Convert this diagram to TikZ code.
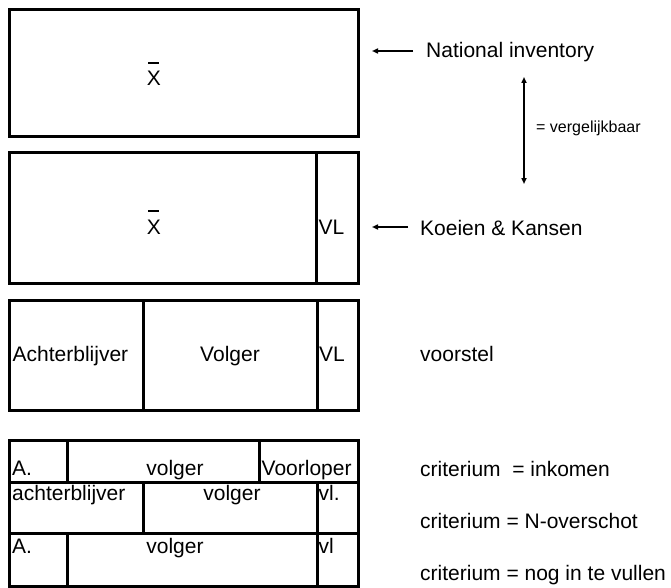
\documentclass[tikz,border=0pt]{standalone}
\usepackage{fontspec}
\setmainfont{Liberation Sans}
\usetikzlibrary{arrows.meta}
\begin{document}
\begin{tikzpicture}[x=1pt,y=-1pt,
  boxline/.style={line width=3pt},
  lbl/.style={inner sep=0pt,font=\fontsize{21}{24}\selectfont,anchor=base west},
  lblc/.style={inner sep=0pt,font=\fontsize{21}{24}\selectfont,anchor=base},
  small/.style={inner sep=0pt,font=\fontsize{16}{19}\selectfont,anchor=base west},
  pointer/.style={line width=1.5pt,-{Triangle[length=6pt,width=5pt]}},
  dpointer/.style={line width=1.5pt,{Triangle[length=6pt,width=5pt]}-{Triangle[length=6pt,width=5pt]}},
  bar/.style={line width=1.5pt}]
\useasboundingbox (0,0) rectangle (671,588);
% box 1
\draw[boxline] (9.5,9.5) rectangle (358,137);
\node[lblc] (x1) at (153.8,86) {X};
\draw[bar] ([xshift=-5.5pt,yshift=8.5pt]x1.north) -- ([xshift=5pt,yshift=8.5pt]x1.north);
% box 2
\draw[boxline] (9.5,153) rectangle (358,283);
\draw[boxline] (316,153) -- (316,283);
\node[lblc] (x2) at (153.8,234) {X};
\draw[bar] ([xshift=-5.5pt,yshift=8.5pt]x2.north) -- ([xshift=5pt,yshift=8.5pt]x2.north);
\node[lbl] (vl2) at (318.5,234) {VL};
% box 3
\draw[boxline] (9.5,300) rectangle (358,410);
\draw[boxline] (143,300) -- (143,410);
\draw[boxline] (317,300) -- (317,410);
\node[lbl] (ach3) at (12.5,361) {Achterblijver};
\node[lblc] (vol3) at (230,361) {Volger};
\node[lbl] (vl3) at (319,361) {VL};
% box 4
\draw[boxline] (9.5,440) rectangle (358,586);
\draw[boxline] (9.5,482) -- (358,482);
\draw[boxline] (9.5,533) -- (358,533);
\draw[boxline] (67,440) -- (67,482);
\draw[boxline] (259,440) -- (259,482);
\draw[boxline] (143,482) -- (143,533);
\draw[boxline] (317,482) -- (317,533);
\draw[boxline] (67,533) -- (67,586);
\draw[boxline] (317,533) -- (317,586);
\node[lbl] (a1) at (12,475) {A.};
\node[lblc] (v1) at (175,475) {volger};
\node[lbl] (vo1) at (261.5,475) {Voorloper};
\node[lbl] (a2) at (12,500.5) {achterblijver};
\node[lblc] (v2) at (232,500.5) {volger};
\node[lbl] (vl42) at (318.5,500.5) {vl.};
\node[lbl] (a3) at (12,553) {A.};
\node[lblc] (v3) at (175,553) {volger};
\node[lbl] (vl43) at (318.5,553) {vl};
% right side labels
\node[lbl] (ni) at (426,58) {National inventory};
\node[lbl] (kk) at (420,235) {Koeien \& Kansen};
\node[small] (verg) at (536,133) {= vergelijkbaar};
\node[lbl] (voor) at (420,361.5) {voorstel};
\node[lbl] (c1) at (420,476.5) {criterium\ \ = inkomen};
\node[lbl] (c2) at (420,528) {criterium = N-overschot};
\node[lbl] (c3) at (420,580) {criterium = nog in te vullen};
% arrows
\coordinate (niS) at (413,51);
\coordinate (niE) at (372,51);
\coordinate (kkS) at (408,227);
\coordinate (kkE) at (372,227);
\coordinate (dTop) at (524,77);
\coordinate (dBot) at (524,184);
\draw[pointer] (niS) -- (niE);
\draw[pointer] (kkS) -- (kkE);
\draw[dpointer] (dTop) -- (dBot);
\end{tikzpicture}
\end{document}
